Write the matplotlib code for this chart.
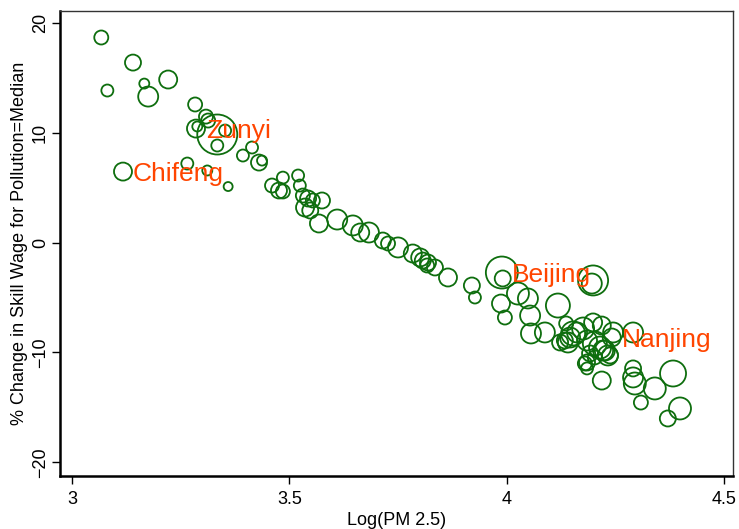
import matplotlib
matplotlib.use('Agg')
import matplotlib.pyplot as plt
import numpy as np

plt.rcParams['font.family'] = ['Liberation Sans', 'DejaVu Sans']

# unlabeled cities: log(PM2.5), % change in skill wage, marker weight
log_pm = [3.067, 3.140, 3.081, 3.166, 3.221, 3.175, 3.283, 3.308, 3.313, 3.288,
          3.334, 3.334, 3.352, 3.393, 3.414, 3.430, 3.437, 3.265, 3.311, 3.359,
          3.485, 3.460, 3.476, 3.485, 3.520, 3.524, 3.531, 3.543, 3.554, 3.575,
          3.536, 3.548, 3.568, 3.610, 3.646, 3.663, 3.683, 3.715, 3.727, 3.750,
          3.784, 3.801, 3.807, 3.819, 3.817, 3.835, 3.865, 3.920, 3.927, 3.991,
          4.026, 4.049, 3.987, 3.996, 4.054, 4.056, 4.088, 4.118, 4.137, 4.134,
          4.146, 4.153, 4.199, 4.196, 4.176, 4.199, 4.219, 4.291, 4.185, 4.203,
          4.215, 4.222, 4.233, 4.192, 4.180, 4.185, 4.219, 4.291, 4.291, 4.295,
          4.341, 4.383, 4.309, 4.399, 4.371, 4.123, 4.141, 4.162, 4.226, 4.238,
          4.203, 4.245, 4.185]
wage_chg = [18.64, 16.36, 13.82, 14.45, 14.82, 13.27, 12.55, 11.45, 11.09, 10.55,
            9.82, 8.82, 10.18, 7.91, 8.64, 7.27, 7.45, 7.18, 6.55, 5.09,
            5.90, 5.18, 4.73, 4.64, 6.09, 5.18, 4.27, 4.00, 3.82, 3.82,
            3.18, 2.91, 1.73, 2.09, 1.55, 0.91, 0.91, 0.18, -0.09, -0.45,
            -1.00, -1.36, -1.64, -1.82, -2.09, -2.27, -3.18, -3.91, -5.00, -3.27,
            -4.64, -5.09, -5.55, -6.82, -6.64, -8.27, -8.18, -5.73, -7.36, -8.91,
            -8.64, -8.27, -3.45, -3.73, -7.82, -7.27, -7.55, -8.18, -8.91, -9.18,
            -9.55, -9.82, -10.27, -10.09, -11.00, -11.45, -12.55, -11.45, -12.27, -12.82,
            -13.27, -11.91, -14.55, -15.09, -16.00, -9.09, -9.09, -8.18, -9.82, -10.27,
            -10.45, -8.18, -10.91]
weight = [7, 8, 6, 5, 9, 10, 7, 7, 7, 5,
          20, 6, 6, 6, 6, 8, 5, 6, 5, 4.5,
          6, 7, 8, 7, 6, 6, 7, 8, 7, 8,
          9, 8, 9, 10, 10, 9, 10, 8, 7, 10,
          9, 9, 8, 8, 7, 8, 9, 8, 6, 8,
          11, 10, 9, 7, 10, 10, 10, 12, 7, 8,
          10, 12, 15, 10, 11, 9, 9, 10, 10, 12,
          11, 10, 10, 8, 7, 6, 9, 8, 10, 11,
          11, 13, 7, 11, 8, 8, 10, 10, 10, 8,
          7, 10, 8]

# labeled cities
city_names = ['Zunyi', 'Chifeng', 'Beijing', 'Nanjing']
city_pm = [3.285, 3.117, 3.989, 4.242]
city_chg = [10.36, 6.45, -2.73, -8.64]
city_weight = [9, 9, 16, 9]

green = '#0e6e0e'
orange = '#ff4500'

fig = plt.figure(figsize=(7.39, 5.29), dpi=100)
ax = fig.add_axes([60/739, 53/529, 673/739, 465/529])

all_x = np.array(log_pm + city_pm)
all_y = np.array(wage_chg + city_chg)
all_w = np.array(weight + city_weight)
ax.scatter(all_x, all_y, s=(1.44*all_w)**2, facecolors='none',
           edgecolors=green, linewidths=1.3, zorder=2)

for name, x, y in zip(city_names, city_pm, city_chg):
    ax.annotate(name, (x, y), xytext=(10, -9), textcoords='offset pixels',
                color=orange, fontsize=19, ha='left', va='baseline', zorder=3)

ax.set_xlim(2.972, 4.521)
ax.set_ylim(-21.23, 21.05)
ax.set_xticks([3, 3.5, 4, 4.5])
ax.set_xticklabels(['3', '3.5', '4', '4.5'])
ax.set_yticks([-20, -10, 0, 10, 20])
for lab in ax.get_yticklabels():
    lab.set_rotation(90)
    lab.set_va('center')
ax.tick_params(axis='both', direction='out', length=6, width=1, labelsize=13, colors='black')
ax.tick_params(axis='x', pad=5)
ax.tick_params(axis='y', pad=2)

for side in ['left', 'bottom']:
    ax.spines[side].set_linewidth(1.8)
    ax.spines[side].set_color('black')
for side in ['top', 'right']:
    ax.spines[side].set_linewidth(1.0)
    ax.spines[side].set_color('#333333')

ax.set_xlabel('Log(PM 2.5)', fontsize=13, labelpad=3)
ax.set_ylabel('% Change in Skill Wage for Pollution=Median', fontsize=13, labelpad=3)

fig.savefig('out.png', dpi=100)
